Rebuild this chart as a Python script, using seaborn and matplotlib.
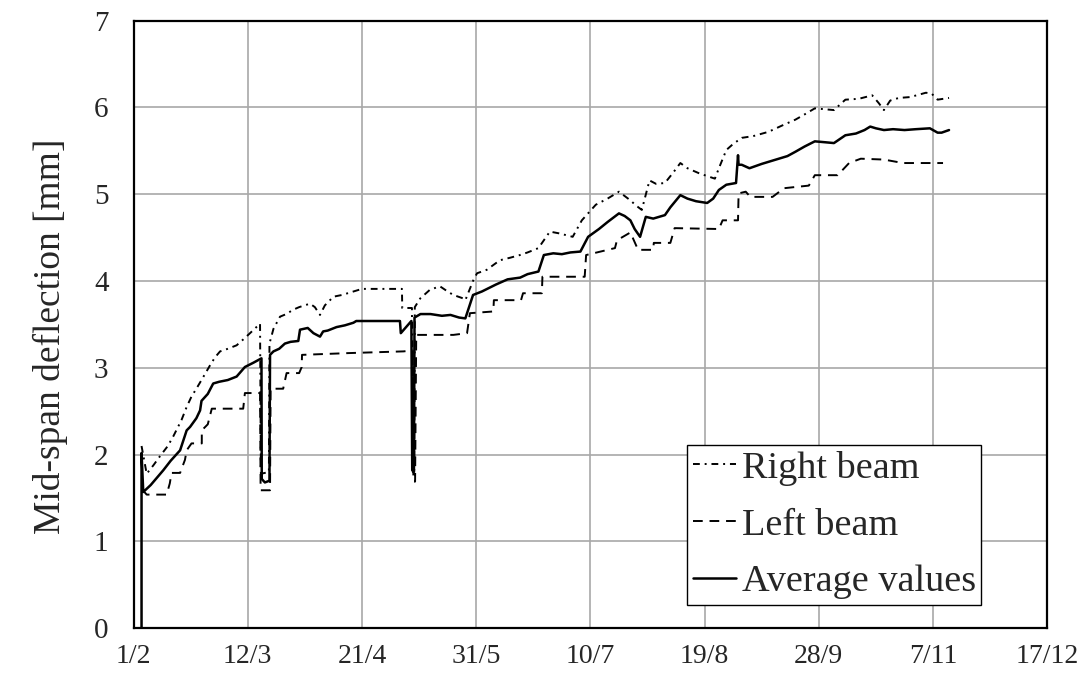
import numpy as np
import pandas as pd
import matplotlib
matplotlib.use("Agg")
import matplotlib.pyplot as plt
import seaborn as sns

# days counted from 1/2 (leap year, ticks every 40 days)
tick_days = [0, 40, 80, 120, 160, 200, 240, 280, 320]
tick_labels = ["1/2", "12/3", "21/4", "31/5", "10/7", "19/8", "28/9", "7/11", "17/12"]

# Right beam (dash-dot)
right_day = [2.8, 4.6, 7, 9.2, 12, 13.9, 16.8, 18.6, 20.3, 22, 23.8, 26.8, 28.5, 30.3, 33, 36.1,
             38.5, 40.8, 44.3, 44.6, 47.4, 47.6, 49, 51.3, 53.5, 55.9, 58, 61.8, 63.5, 65.3, 67,
             70, 73, 77, 80, 92.6, 94, 94.1, 97.5, 97.8, 98.3, 98.5, 100.4, 103.8, 107.3, 110,
             112, 115.5, 116.2, 119, 120.3, 123.7, 128.3, 132, 135.3, 138, 141.8, 145.8, 149,
             153.8, 157, 161.9, 166, 170, 174, 176, 178, 180.7, 183, 186.1, 189, 191.5, 194,
             198.2, 203.6, 205, 207.6, 210, 213, 217, 222.4, 227, 231.8, 235, 238.6, 242, 245.3,
             249.3, 254, 258.7, 261, 262.8, 265, 268, 272, 277.5, 279.5, 281.6, 285.6]
right_val = [2.10, 1.78, 1.88, 1.98, 2.10, 2.21, 2.40, 2.55, 2.67, 2.76, 2.86, 3.03, 3.12, 3.19,
             3.22, 3.26, 3.33, 3.40, 3.51, 1.78, 1.80, 3.28, 3.45, 3.59, 3.62, 3.67, 3.70, 3.74,
             3.70, 3.61, 3.72, 3.82, 3.84, 3.88, 3.91, 3.91, 3.91, 3.69, 3.69, 1.80, 1.80, 3.70,
             3.80, 3.90, 3.94, 3.88, 3.84, 3.80, 3.78, 4.01, 4.09, 4.13, 4.24, 4.27, 4.30, 4.33,
             4.38, 4.57, 4.55, 4.51, 4.70, 4.88, 4.95, 5.03, 4.93, 4.87, 4.82, 5.16, 5.12, 5.13,
             5.25, 5.36, 5.30, 5.24, 5.18, 5.30, 5.51, 5.58, 5.65, 5.67, 5.72, 5.79, 5.86, 5.92,
             5.99, 5.98, 5.97, 6.09, 6.10, 6.14, 6.05, 5.97, 6.08, 6.11, 6.12, 6.17, 6.16, 6.09,
             6.11]

# Left beam (dashed)
left_day = [3.0, 4.6, 11.6, 12.7, 13.3, 16.3, 18, 18.6, 20.3, 23.9, 23.9, 26, 27.4, 38.4, 39,
            44.3, 44.5, 47.8, 48, 52.4, 53.6, 58, 58.9, 59, 75, 94.5, 97.8, 98, 98.6, 99, 112,
            116.8, 117.8, 126, 126.2, 135.7, 136.4, 143, 143.2, 158, 158.5, 168.6, 169.3, 174,
            176.7, 182, 182.2, 188, 189.5, 205, 206.3, 211.7, 211.9, 214.4, 216, 223.8, 227.8,
            236.5, 238.6, 246.6, 250.6, 254.7, 262.8, 269.5, 283.5]
left_val = [1.60, 1.54, 1.54, 1.67, 1.79, 1.79, 1.94, 2.05, 2.13, 2.13, 2.28, 2.35, 2.53, 2.53,
            2.71, 2.71, 1.59, 1.59, 2.76, 2.76, 2.94, 2.94, 3.01, 3.15, 3.17, 3.19, 3.20, 1.69,
            1.69, 3.38, 3.38, 3.40, 3.63, 3.65, 3.78, 3.78, 3.86, 3.86, 4.05, 4.05, 4.30, 4.38,
            4.47, 4.56, 4.36, 4.36, 4.44, 4.44, 4.61, 4.60, 4.70, 4.70, 5.01, 5.03, 4.97, 4.97,
            5.07, 5.10, 5.22, 5.22, 5.36, 5.41, 5.40, 5.36, 5.36]

# Average values (solid)
avg_day = [2.8, 2.8, 3.4, 6, 10.4, 13, 16.3, 18.6, 19.8, 22, 23.3, 23.8, 26, 27.9, 30, 33, 36.1,
           39, 42, 44.8, 44.9, 46, 47.6, 47.8, 49, 51, 53, 55, 57.7, 58.3, 61, 63, 65.3, 66.4,
           68, 71.1, 74, 77, 78, 93.3, 93.6, 97.3, 97.6, 98.2, 98.4, 100.5, 104, 108, 111, 114,
           116.2, 118.9, 122, 126.9, 131, 135.4, 138, 141.8, 143.7, 147, 150, 153, 156.5, 159.2,
           163, 166, 170, 172, 174, 175.5, 177.4, 179.4, 182, 186.1, 188, 191.5, 194, 197, 200.9,
           203, 205, 207.6, 211, 211.7, 211.9, 213, 215.7, 220, 225, 229, 231.8, 235, 238.6, 242,
           245.3, 249.3, 253, 256, 258, 260, 262.8, 266, 270, 274, 278.9, 281.6, 283, 285.6]
avg_val = [0.00, 2.02, 1.57, 1.65, 1.82, 1.93, 2.05, 2.28, 2.32, 2.42, 2.51, 2.62, 2.70, 2.82,
           2.84, 2.86, 2.90, 3.01, 3.06, 3.11, 1.72, 1.68, 1.70, 3.15, 3.19, 3.22, 3.28, 3.30,
           3.31, 3.44, 3.46, 3.40, 3.36, 3.42, 3.43, 3.47, 3.49, 3.52, 3.54, 3.54, 3.40, 3.54,
           1.82, 1.82, 3.58, 3.62, 3.62, 3.60, 3.61, 3.58, 3.57, 3.84, 3.88, 3.96, 4.02, 4.04,
           4.08, 4.11, 4.30, 4.32, 4.31, 4.33, 4.34, 4.51, 4.60, 4.68, 4.78, 4.75, 4.70, 4.60,
           4.51, 4.74, 4.72, 4.76, 4.85, 4.99, 4.95, 4.92, 4.90, 4.95, 5.05, 5.11, 5.13, 5.45,
           5.34, 5.34, 5.30, 5.35, 5.40, 5.44, 5.49, 5.55, 5.61, 5.60, 5.59, 5.68, 5.70, 5.74,
           5.78, 5.76, 5.74, 5.75, 5.74, 5.75, 5.76, 5.71, 5.71, 5.74]

sns.set_style("white")
plt.rcParams['font.family'] = ['Liberation Serif', 'DejaVu Serif']

fig = plt.figure(figsize=(10.84, 6.76), dpi=100)
ax = fig.add_axes([0.1232, 0.0706, 0.8429, 0.8988])

# dash-dot, dashed, solid
sns.lineplot(x=right_day, y=right_val, ax=ax, estimator=None, sort=False, color="black",
             lw=1.4, linestyle=(0, (3.5, 2.5, 1, 2.5)), label="Right beam")
sns.lineplot(x=left_day, y=left_val, ax=ax, estimator=None, sort=False, color="black",
             lw=1.4, linestyle=(0, (5, 3.5)), label="Left beam")
sns.lineplot(x=avg_day, y=avg_val, ax=ax, estimator=None, sort=False, color="black",
             lw=1.8, linestyle="-", label="Average values")

ax.set_xlim(0, 320)
ax.set_ylim(0, 7)
ax.set_xticks(tick_days)
ax.set_xticklabels(tick_labels)
ax.set_yticks(range(0, 8))
ax.grid(True, color="#a8a8a8", lw=1.2)
ax.set_axisbelow(True)
for s in ax.spines.values():
    s.set_color("black")
    s.set_linewidth(1.6)
ax.tick_params(axis="both", direction="out", length=5, width=1.4, color="black")
ax.tick_params(axis="x", labelsize=20, pad=6)
ax.tick_params(axis="y", labelsize=21, pad=13)
ax.set_xlabel("")
ax.set_ylabel("Mid-span deflection [mm]", fontsize=27)
ax.yaxis.set_label_coords(-0.072, 0.48)

leg = ax.legend(loc="lower right", bbox_to_anchor=(0.928, 0.038), fontsize=27.5,
                frameon=True, fancybox=False, framealpha=1, edgecolor="black",
                borderpad=0.15, borderaxespad=0, handlelength=1.13, handletextpad=0.15,
                labelspacing=0.58)
leg.get_frame().set_linewidth(1.0)

fig.savefig("out.png", dpi=100)
